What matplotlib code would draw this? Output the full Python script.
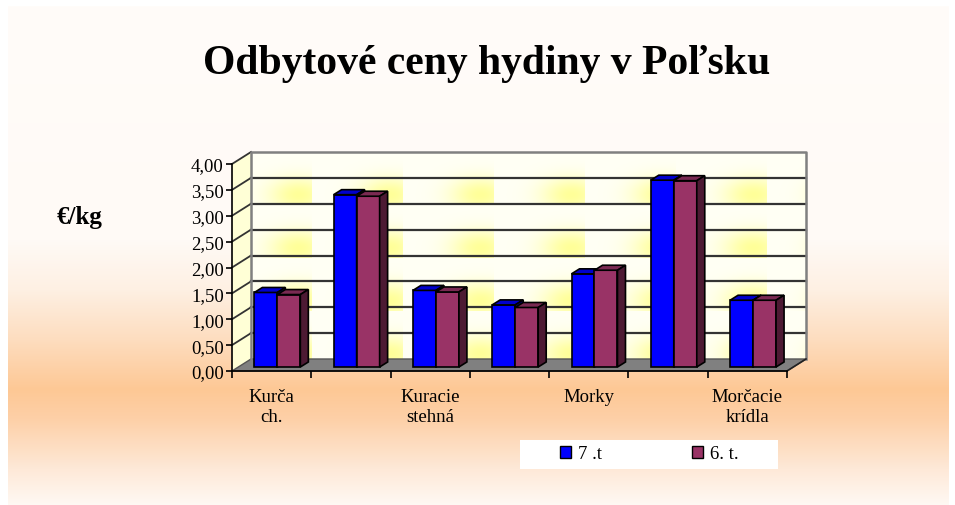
import numpy as np
import matplotlib

matplotlib.use("Agg")
import matplotlib.pyplot as plt
from matplotlib.patches import Patch, Polygon, Rectangle

# data (EUR/kg)
categories = ["Kurča\nch.", "", "Kuracie\nstehná", "", "Morky", "", "Morčacie\nkrídla"]
series_names = ["7 .t", "6. t."]
week7 = [1.44, 3.33, 1.48, 1.20, 1.80, 3.61, 1.29]
week6 = [1.40, 3.30, 1.45, 1.15, 1.87, 3.60, 1.29]
y_ticks = [0.0, 0.5, 1.0, 1.5, 2.0, 2.5, 3.0, 3.5, 4.0]

front_colors = ["#0000FF", "#993366"]
top_colors = ["#0000CC", "#7A2A52"]
side_colors = ["#00008A", "#4D1A33"]

W, H = 955, 506
fig = plt.figure(figsize=(W / 100, H / 100), dpi=100, facecolor="white")
serif = ["Liberation Serif", "DejaVu Serif"]

# background gradient (white -> peach -> white)
bg = fig.add_axes([8 / W, 0, 940 / W, 499 / H], zorder=-10)
stops_y = [0, 233, 283, 333, 383, 413, 463, 499]
stops_c = ["#FFFCF9", "#FFFAF6", "#FEF0E3", "#FDDDBF", "#FDC895", "#FDD0A8", "#FEE9D8", "#FFF9F4"]
rows = np.arange(499)
rgb = np.array([matplotlib.colors.to_rgb(c) for c in stops_c])
grad = np.stack([np.interp(rows, stops_y, rgb[:, k]) for k in range(3)], axis=-1)
bg.imshow(grad[:, None, :], aspect="auto", extent=(0, 1, 0, 1))
bg.axis("off")

# main plot area (front plane)
ax_l, ax_b, ax_w, ax_h = 232, 506 - 372, 555, 207
ax = fig.add_axes([ax_l / W, ax_b / H, ax_w / W, ax_h / H])
ax.patch.set_alpha(0)
n = len(week7)
ymax = 4.0
sx = ax_w / n
sy = ax_h / ymax


def depth(px_x, px_y):
    return px_x / sx, px_y / sy


ddx, ddy = depth(19, 12)

# back wall with soft yellow texture
tw, th = 91, 53
yy, xx = np.mgrid[0:ax_h, 0:ax_w]
u = ((xx + 30) % tw) / tw
v = (yy % th) / th
inten = np.exp(-((u - 0.85) / 0.33) ** 2 - ((v - 0.8) / 0.33) ** 2)
tex = np.ones((ax_h, ax_w, 3))
tex[..., 2] = 0.96 - 0.36 * inten
im = ax.imshow(tex, extent=(ddx, n + ddx, ddy, ymax + ddy), aspect="auto",
               interpolation="bilinear", zorder=0.5)
im.set_clip_on(False)

# left side wall
ax.add_patch(Polygon([(0, 0), (0, ymax), (ddx, ymax + ddy), (ddx, ddy)], closed=True,
                     facecolor="#FFFFD6", edgecolor="none", zorder=0.6, clip_on=False))
# floor
ax.add_patch(Polygon([(0, 0), (n, 0), (n + ddx, ddy), (ddx, ddy)], closed=True,
                     facecolor="#808080", edgecolor="#555555", lw=1, zorder=0.7, clip_on=False))

# gridlines on back and left walls
for yv in y_ticks[1:]:
    if yv < ymax:
        ax.plot([ddx, n + ddx], [yv + ddy, yv + ddy], color="#333333", lw=1.6, zorder=1, clip_on=False)
    ax.plot([0, ddx], [yv, yv + ddy], color="#333333", lw=1.3, zorder=1, clip_on=False)

# wall outline
ax.plot([ddx, ddx, n + ddx, n + ddx], [ddy, ymax + ddy, ymax + ddy, ddy],
        color="#808080", lw=1.8, zorder=1.1, clip_on=False)
ax.plot([n, n + ddx], [0, ddy], color="#222222", lw=1.2, zorder=1.1, clip_on=False)

# 3D bars
bar_w = 0.29
bar_start = 0.2
fdx, fdy = depth(6.5, 4)
bdx, bdy = depth(14.5, 9)
for i in range(n):
    for j, vals in enumerate([week7, week6]):
        x0 = i + bar_start + j * bar_w
        x1 = x0 + bar_w
        val = vals[i]
        z = 3 + i * 0.1 + j * 0.01
        ax.bar(x0 + fdx, val, width=bar_w, bottom=fdy, align="edge", color=front_colors[j],
               edgecolor="black", lw=1.2, zorder=z, clip_on=False)
        ax.add_patch(Polygon([(x0 + fdx, val + fdy), (x1 + fdx, val + fdy),
                              (x1 + bdx, val + bdy), (x0 + bdx, val + bdy)], closed=True,
                             facecolor=top_colors[j], edgecolor="black", lw=1.2, zorder=z, clip_on=False))
        ax.add_patch(Polygon([(x1 + fdx, fdy), (x1 + fdx, val + fdy),
                              (x1 + bdx, val + bdy), (x1 + bdx, bdy)], closed=True,
                             facecolor=side_colors[j], edgecolor="black", lw=1.2, zorder=z, clip_on=False))

ax.set_xlim(0, n)
ax.set_ylim(0, ymax)

for s in ["top", "right"]:
    ax.spines[s].set_visible(False)
for s in ["left", "bottom"]:
    ax.spines[s].set_color("black")
    ax.spines[s].set_linewidth(1.2)
    ax.spines[s].set_zorder(2)

ax.set_yticks(y_ticks)
ax.set_yticklabels([f"{t:.2f}".replace(".", ",") for t in y_ticks], fontsize=13.5, family=serif)
ax.tick_params(axis="y", length=4, width=1.2, pad=2)

ax.set_xticks(range(n + 1))
ax.set_xticklabels([])
ax.tick_params(axis="x", which="major", length=5, width=1.2)
ax.set_xticks([i + 0.5 for i in range(n)], minor=True)
ax.set_xticklabels(categories, minor=True, fontsize=13.5, family=serif, linespacing=1.25)
ax.tick_params(axis="x", which="minor", length=0, pad=12)

# texts
fig.text(487 / W, 1 - 74 / H, "Odbytové ceny hydiny v Poľsku", ha="center", va="baseline",
         fontsize=30, fontweight="bold", family=serif)
fig.text(57 / W, 1 - 224 / H, "€/kg", ha="left", va="baseline", fontsize=18,
         fontweight="bold", family=serif)

# legend: white box with entries placed inside
fig.add_artist(Rectangle((520 / W, 1 - 470 / H), 258 / W, 29 / H, transform=fig.transFigure,
                         facecolor="white", edgecolor="none", zorder=5))
handles = [Patch(facecolor=c, edgecolor="black", lw=1) for c in front_colors]
leg = fig.legend(handles, series_names, loc="center left", ncol=2,
                 bbox_to_anchor=(560 / W, 1 - 455 / H), frameon=False,
                 prop={"family": serif, "size": 13.5}, handlelength=0.6, handleheight=0.6,
                 handletextpad=0.35, columnspacing=4.8, borderaxespad=0, borderpad=0)
leg.set_zorder(6)

fig.savefig("out.png", dpi=100, facecolor="white")
